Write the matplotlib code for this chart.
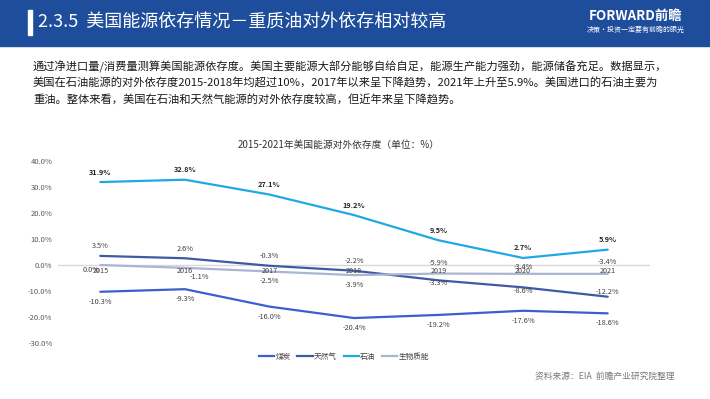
import matplotlib
matplotlib.use("Agg")
import matplotlib.pyplot as plt
from matplotlib.lines import Line2D
from matplotlib.patches import Rectangle

plt.rcParams['font.family'] = ['Noto Sans CJK SC', 'DejaVu Sans']

years = ['2015', '2016', '2017', '2018', '2019', '2020', '2021']
coal = [-10.3, -9.3, -16.0, -20.4, -19.2, -17.6, -18.6]
gas = [3.5, 2.6, -0.3, -2.2, -5.9, -8.6, -12.2]
oil = [31.9, 32.8, 27.1, 19.2, 9.5, 2.7, 5.9]
biomass = [0.0, -1.1, -2.5, -3.9, -3.3, -3.4, -3.4]
series_names = ['煤炭', '天然气', '石油', '生物质能']
yticks = [40, 30, 20, 10, 0, -10, -20, -30]

W, H = 710, 399
fig = plt.figure(figsize=(W / 100, H / 100), dpi=100)

def fx(x):
    return x / W

def fy(y):
    return 1 - y / H

# header band
fig.patches.append(Rectangle((0, fy(46)), 1, 46 / H, transform=fig.transFigure,
                             color='#1e4d9c', zorder=0))
fig.patches.append(Rectangle((fx(28), fy(35)), 4 / W, 25 / H, transform=fig.transFigure,
                             color='white', zorder=1))
fig.text(fx(38), fy(23), '2.3.5  美国能源依存情况－重质油对外依存相对较高', color='white',
         fontsize=13, va='center', ha='left')
fig.text(fx(636), fy(16), 'FORWARD前瞻', color='white', fontsize=9.6, fontweight='bold',
         va='center', ha='center')
fig.text(fx(636), fy(29.5), '决策·投资一定要有前瞻的眼光', color='white', fontsize=5.0,
         va='center', ha='center')

para = ['通过净进口量/消费量测算美国能源依存度。美国主要能源大部分能够自给自足，能源生产能力强劲，能源储备充足。数据显示，',
        '美国在石油能源的对外依存度2015-2018年均超过10%，2017年以来呈下降趋势，2021年上升至5.9%。美国进口的石油主要为',
        '重油。整体来看，美国在石油和天然气能源的对外依存度较高，但近年来呈下降趋势。']
for i, line in enumerate(para):
    fig.text(fx(33), fy(67 + 16.5 * i), line, fontsize=8.1, color='#1a1a1a',
             va='center', ha='left')

fig.text(fx(339), fy(145), '2015-2021年美国能源对外依存度（单位：%）', fontsize=7,
         color='#333333', va='center', ha='center')

ax = fig.add_axes([fx(58), fy(343), (650 - 58) / W, (343 - 161) / H])
ax.set_xlim(-0.5, 6.5)
ax.set_ylim(-30, 40)
for s in ax.spines.values():
    s.set_visible(False)
ax.set_xticks([])
ax.set_yticks(yticks)
ax.set_yticklabels([f'{v:.1f}%' for v in yticks], fontsize=5.5, color='#595959')
ax.tick_params(axis='y', length=0, pad=4)
ax.axhline(0, color='#d9d9d9', lw=1, zorder=1)

x = list(range(len(years)))
colors = ['#3a5fcf', '#3f5aa5', '#1fa9e4', '#aab5d1']
data = [coal, gas, oil, biomass]
for d, c, n in zip(data, colors, series_names):
    ax.plot(x, d, color=c, lw=1.6, label=n, zorder=3, solid_capstyle='round')

for i, yr in enumerate(years):
    ax.annotate(yr, (i, 0), xytext=(0, -1.2), textcoords='offset points', ha='center',
                va='top', fontsize=5.2, color='#404040', zorder=4)

px = 0.72
# oil labels
for i, v in enumerate(oil):
    ax.annotate(f'{v:.1f}%', (i, v), xytext=(0, 10 * px), textcoords='offset points',
                ha='center', va='center', fontsize=5.3, fontweight='bold', color='#262626')
gas_off = [10, 9, 10, 10, 17, -4, 5]
for i, v in enumerate(gas):
    ax.annotate(f'{v:.1f}%', (i, v), xytext=(0, gas_off[i] * px), textcoords='offset points',
                ha='center', va='center', fontsize=5.3, color='#404040')
bio_off = [(-9, -5), (15, -9), (0, -9.5), (0, -10), (0, -9.5), (0, 7), (0, 12)]
for i, v in enumerate(biomass):
    dx, dy = bio_off[i]
    ax.annotate(f'{v:.1f}%', (i, v), xytext=(dx * px, dy * px), textcoords='offset points',
                ha='center', va='center', fontsize=5.3, color='#404040')
for i, v in enumerate(coal):
    ax.annotate(f'{v:.1f}%', (i, v), xytext=(0, -10 * px), textcoords='offset points',
                ha='center', va='center', fontsize=5.3, color='#404040')

handles = [Line2D([0], [0], color=c, lw=1.6) for c in colors]
fig.legend(handles, series_names, loc='center', bbox_to_anchor=(fx(344), fy(357)), ncol=4,
           frameon=False, fontsize=5.5, handlelength=2.0, handletextpad=0.15,
           columnspacing=0.9, labelcolor='#404040')

fig.text(fx(675), fy(376), '资料来源：EIA  前瞻产业研究院整理', fontsize=6.3, color='#7a7a7a',
         ha='right', va='center')

fig.savefig('out.png', dpi=100)
